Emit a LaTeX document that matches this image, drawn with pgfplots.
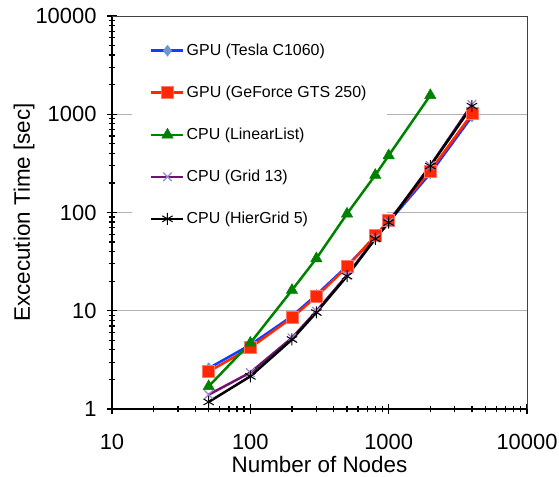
\documentclass[border=0pt]{standalone}
\usepackage{pgfplots}
\pgfplotsset{compat=1.18}
\usepackage{fontspec}
\setmainfont{Liberation Sans}

\definecolor{cBlue}{RGB}{20,60,255}
\definecolor{cBlueMk}{RGB}{110,150,210}
\definecolor{cRed}{RGB}{255,40,0}
\definecolor{cRedMk}{RGB}{255,120,110}
\definecolor{cGreen}{RGB}{0,130,0}
\definecolor{cPurple}{RGB}{110,20,110}
\definecolor{cPurpleMk}{RGB}{160,130,210}

\begin{document}
\begin{tikzpicture}
\begin{axis}[
    name=ax,
    xmode=log, ymode=log,
    scale only axis,
    width=415bp, height=393bp,
    xmin=10, xmax=10000,
    ymin=1, ymax=10000,
    axis lines*=left,
    axis line style={line width=1.5bp, -},
    tick align=center,
    major tick length=10bp,
    minor tick length=7bp,
    tick style={line width=1.2bp, black},
    log ticks with fixed point,
    /pgf/number format/1000 sep={},
    /pgf/number format/assume math mode=true,
    ymajorgrids,
    major grid style={line width=0.8bp, black!30},
    ticklabel style={font=\fontsize{22}{26}\selectfont},
    xticklabel style={yshift=-17bp},
    yticklabel style={xshift=-7bp},
    label style={font=\fontsize{22.5}{27}\selectfont},
    xlabel={Number of Nodes},
    ylabel={Excecution Time [sec]},
    xlabel style={at={(axis description cs:0.5,-0.14)}, anchor=center},
    ylabel style={at={(axis description cs:-0.212,0.5)}, anchor=center},
    legend cell align=left,
    legend style={draw=none, fill=none, at={(0.082,0.944)}, anchor=north west,
        font=\fontsize{16}{19}\selectfont, row sep=25bp, inner sep=4bp},
    legend image code/.code={\draw[mark repeat=2, mark phase=2] plot coordinates {(0bp,0bp) (16bp,0bp) (32bp,0bp)};},
    every axis plot/.append style={line width=2.5bp},
]
% white legend area: hides the grid, lies under the series
\fill[white] (axis description cs:0.048,0.455) rectangle (axis description cs:0.663,0.977);

\addplot[cBlue, mark=diamond*, mark size=5.5bp, mark options={fill=cBlueMk, draw=cBlueMk, line width=0.5bp}] coordinates {
    (50,2.6) (100,4.5) (200,8.8) (300,14.5) (500,28.5) (800,57) (1000,80) (2000,250) (4000,950)
};
\addlegendentry{GPU (Tesla C1060)}
\addplot[cRed, mark=square*, mark size=6bp, mark options={fill=cRed, draw=cRedMk, line width=0.8bp}] coordinates {
    (50,2.4) (100,4.2) (200,8.5) (300,13.9) (500,28) (800,58) (1000,83) (2000,265) (4000,1010)
};
\addlegendentry{GPU (GeForce GTS 250)}
\addplot[cGreen, mark=triangle*, mark size=6.5bp, mark options={fill=cGreen, line width=0.5bp}] coordinates {
    (50,1.7) (100,4.7) (200,16.2) (300,34) (500,97) (800,240) (1000,380) (2000,1560)
};
\addlegendentry{CPU (LinearList)}
\addplot[cPurple, mark=x, mark size=6bp, mark options={draw=cPurpleMk, line width=1.2bp}] coordinates {
    (50,1.4) (100,2.35) (200,5.3) (300,9.9) (500,23) (800,55) (1000,80) (2000,300) (4000,1260)
};
\addlegendentry{CPU (Grid 13)}
\addplot[black, mark=asterisk, mark size=6bp, mark options={line width=1bp}] coordinates {
    (50,1.18) (100,2.15) (200,5.1) (300,9.6) (500,22.5) (800,54) (1000,79) (2000,297) (4000,1210)
};
\addlegendentry{CPU (HierGrid 5)}
\end{axis}
\draw[line width=0.8bp, black!75] (ax.north west) -| (ax.south east);
\pgfresetboundingbox
\path[use as bounding box] ([xshift=-112bp, yshift=-68bp]ax.south west) rectangle ++(559bp,477bp);
\end{tikzpicture}
\end{document}
